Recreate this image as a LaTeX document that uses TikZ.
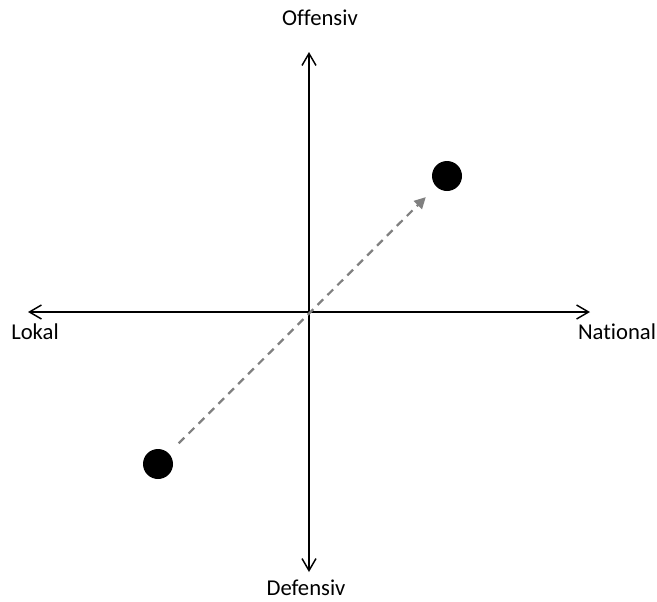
\documentclass[tikz,border=0pt]{standalone}
\usepackage{fontspec}
\setmainfont[Ligatures=NoCommon]{Carlito}
\usepackage{tikz}
\usetikzlibrary{arrows.meta, positioning}
\definecolor{DashGray}{RGB}{128, 128, 128}

\begin{document}
\begin{tikzpicture}[
  x=0.75pt, y=-0.75pt,
  ax/.style={{Straight Barb[length=9pt,width=10.5pt]}-{Straight Barb[length=9pt,width=10.5pt]}, line width=1.1pt},
  dt/.style={circle, fill=black, inner sep=0pt, minimum size=22.5pt},
  lb/.style={font=\fontsize{17pt}{20pt}\selectfont, inner sep=0pt},
  mv/.style={-{Triangle[length=8.5pt,width=8.5pt]}, line width=1.7pt, color=DashGray,
             dash pattern=on 6pt off 4.5pt, shorten <=10.5pt, shorten >=11pt}
]
  \useasboundingbox (0,0) rectangle (657,601);
  \coordinate (o) at (309,312);
  \coordinate (n) at (309,52);
  \coordinate (s) at (309,572);
  \coordinate (w) at (28,312);
  \coordinate (e) at (590,312);
  \draw[ax] (w) -- (e);
  \draw[ax] (s) -- (n);
  \node[lb] (off) at (320,18)  {Offensiv};
  \node[lb] (def) at (306,588) {Defensiv};
  \node[lb] (lok) at (35,332)  {Lokal};
  \node[lb] (nat) at (617,332) {National};
  \node[dt] (from) at (158,464) {};
  \node[dt] (to)   at (447,176) {};
  \draw[mv] (from) -- (to);
\end{tikzpicture}
\end{document}
